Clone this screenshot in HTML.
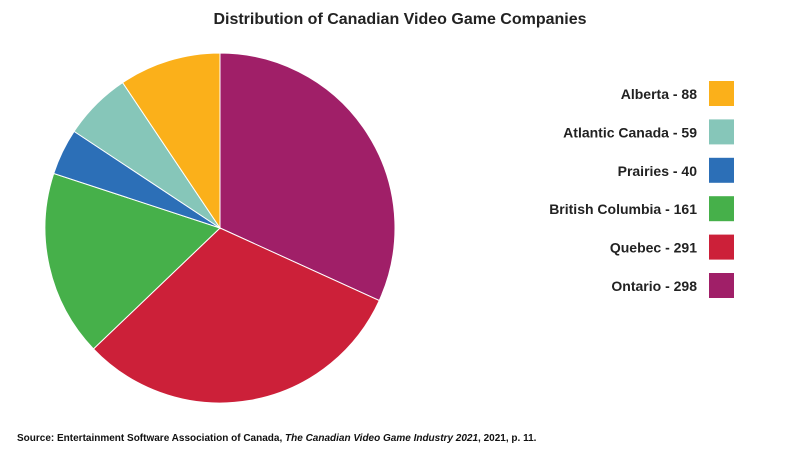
<!DOCTYPE html>
<html><head><meta charset="utf-8"><style>
body{margin:0;background:#fff;font-family:"Liberation Sans",Arial,sans-serif;}
svg{display:block}
</style></head><body>
<svg width="800" height="453" viewBox="0 0 800 453" id="chart">
<text x="400" y="24" text-anchor="middle" font-size="16" font-weight="bold" fill="#222">Distribution of Canadian Video Game Companies</text>
<g id="pie"></g>
<g id="legend"></g>
<text x="17" y="441" font-size="10" font-weight="bold" fill="#111">Source: Entertainment Software Association of Canada, <tspan font-style="italic">The Canadian Video Game Industry 2021</tspan>, 2021, p. 11.</text>
</svg>
<script>
const categories = ["Ontario","Quebec","British Columbia","Prairies","Atlantic Canada","Alberta"];
const values = [298,291,161,40,59,88];
const colors = ["#A01F68","#CC2039","#46B04A","#2C6FB7","#86C6B9","#FBB01A"];
const legendOrder = ["Alberta","Atlantic Canada","Prairies","British Columbia","Quebec","Ontario"];
const NS="http://www.w3.org/2000/svg";
const cx=220, cy=228, r=175;
const total=values.reduce((a,b)=>a+b,0);
const pie=document.getElementById('pie');
let a0=0;
function pt(a){return [cx+r*Math.sin(a), cy-r*Math.cos(a)];}
values.forEach((v,i)=>{
  const a1=a0+v/total*2*Math.PI;
  const [x0,y0]=pt(a0),[x1,y1]=pt(a1);
  const p=document.createElementNS(NS,'path');
  p.setAttribute('d',`M${cx},${cy}L${x0},${y0}A${r},${r} 0 ${a1-a0>Math.PI?1:0} 1 ${x1},${y1}Z`);
  p.setAttribute('fill',colors[i]);
  p.setAttribute('stroke','#fff');
  p.setAttribute('stroke-width','1');
  
  
  pie.appendChild(p);
  a0=a1;
});
const lg=document.getElementById('legend');
legendOrder.forEach((name,j)=>{
  const i=categories.indexOf(name);
  const y=81+j*38.4;
  const t=document.createElementNS(NS,'text');
  t.setAttribute('x',697);t.setAttribute('y',y+18);
  t.setAttribute('text-anchor','end');t.setAttribute('font-size','14');t.setAttribute('font-weight','bold');t.setAttribute('fill','#222');
  t.textContent=name+' - '+values[i];
  
  
  lg.appendChild(t);
  const s=document.createElementNS(NS,'rect');
  s.setAttribute('x',709);s.setAttribute('y',y);s.setAttribute('width',25);s.setAttribute('height',25);
  s.setAttribute('fill',colors[i]);
  
  
  lg.appendChild(s);
});
</script>
</body></html>
